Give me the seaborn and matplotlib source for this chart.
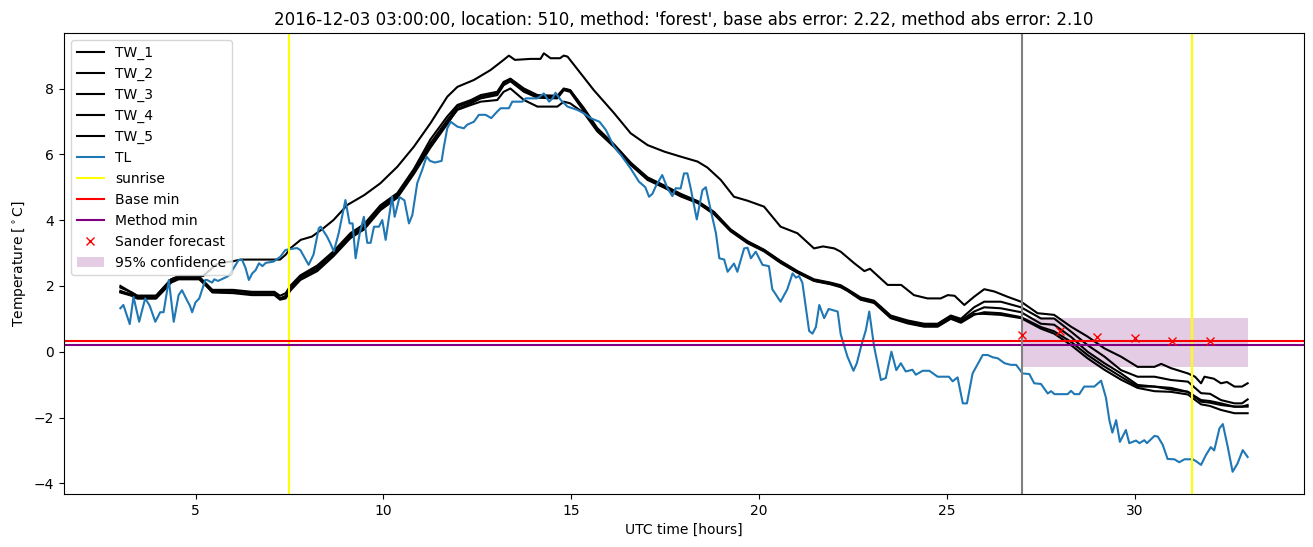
import matplotlib
matplotlib.use("Agg")
import matplotlib.pyplot as plt
import seaborn as sns

# ---------------- data ----------------
tw1_hours = [3.00, 3.15, 3.30, 3.45, 3.95, 4.15, 4.35, 4.55, 5.20, 5.35,
             5.55, 5.70, 6.00, 6.20, 7.10, 7.25, 7.40, 7.52, 7.80, 8.10,
             8.40, 8.67, 9.04, 9.49, 9.92, 10.37, 10.81, 11.25, 11.70, 11.97,
             12.41, 12.85, 13.20, 13.34, 13.50, 13.92, 14.18, 14.27, 14.45, 14.70,
             14.80, 14.90, 15.25, 15.60, 16.14, 16.58, 17.03, 17.48, 17.91, 18.36,
             18.62, 18.98, 19.33, 19.69, 20.13, 20.57, 21.02, 21.46, 21.70, 22.00,
             22.17, 22.53, 22.80, 22.95, 23.42, 23.78, 24.12, 24.48, 24.83, 25.02,
             25.20, 25.46, 25.72, 25.99, 26.26, 26.61, 26.97, 27.41, 27.85, 28.30,
             28.74, 29.19, 29.63, 30.07, 30.52, 30.70, 30.96, 31.41, 31.60, 31.76,
             31.85, 32.10, 32.29, 32.45, 32.65, 32.85, 33.00]
tw1_values = [2.00, 1.90, 1.80, 1.70, 1.70, 1.95, 2.20, 2.30, 2.30, 2.45,
              2.65, 2.70, 2.75, 2.80, 2.80, 2.80, 2.95, 3.14, 3.40, 3.50,
              3.75, 4.00, 4.46, 4.76, 5.12, 5.62, 6.23, 6.94, 7.75, 8.05,
              8.26, 8.56, 8.87, 9.00, 8.87, 8.90, 8.90, 9.07, 8.92, 8.92,
              9.00, 8.97, 8.46, 7.95, 7.25, 6.64, 6.28, 6.08, 5.93, 5.78,
              5.60, 5.22, 4.71, 4.59, 4.41, 3.80, 3.60, 3.14, 3.20, 3.14,
              3.04, 2.69, 2.45, 2.52, 2.03, 2.03, 1.72, 1.62, 1.62, 1.72,
              1.70, 1.42, 1.67, 1.90, 1.83, 1.67, 1.52, 1.17, 1.12, 0.76,
              0.46, 0.10, -0.15, -0.46, -0.46, -0.37, -0.50, -0.66, -0.76, -0.96,
              -0.76, -0.82, -0.96, -0.92, -1.06, -1.06, -0.96]

tw_hours = [3.0, 3.3, 3.45, 3.95, 4.15, 4.35, 4.55, 5.1, 5.3, 5.45,
            6.0, 6.5, 7.1, 7.25, 7.4, 7.52, 7.79, 8.24, 8.67, 9.12,
            9.49, 9.92, 10.37, 10.81, 11.25, 11.7, 11.97, 12.33, 12.59, 13.03,
            13.2, 13.38, 13.74, 14.1, 14.63, 14.8, 14.97, 15.34, 15.69, 16.14,
            16.58, 17.03, 17.48, 17.91, 18.36, 18.8, 19.24, 19.69, 20.13, 20.57,
            21.02, 21.46, 21.9, 22.17, 22.35, 22.7, 23.06, 23.5, 23.95, 24.39,
            24.75, 25.1, 25.37, 25.72, 25.99, 26.43, 26.97, 27.5, 27.85, 28.3,
            28.74, 29.19, 29.63, 30.07, 30.52, 30.96, 31.41, 31.76, 32.0, 32.29,
            32.65, 32.85, 33.0]
tw2_values = [1.95, 1.80, 1.70, 1.70, 1.95, 2.20, 2.28, 2.28, 2.05, 1.88,
              1.88, 1.82, 1.82, 1.70, 1.78, 2.00, 2.32, 2.62, 3.05, 3.60,
              3.88, 4.45, 4.82, 5.55, 6.45, 7.15, 7.50, 7.65, 7.80, 7.90,
              8.20, 8.30, 8.00, 7.80, 7.78, 8.00, 7.95, 7.40, 6.80, 6.30,
              5.75, 5.30, 5.05, 4.80, 4.58, 4.25, 3.72, 3.36, 3.10, 2.76,
              2.45, 2.20, 2.10, 2.02, 1.90, 1.65, 1.55, 1.10, 0.95, 0.85,
              0.85, 1.10, 1.00, 1.35, 1.52, 1.52, 1.35, 1.01, 1.01, 0.61,
              0.20, -0.15, -0.56, -0.76, -0.76, -0.86, -0.91, -1.26, -1.28, -1.47,
              -1.57, -1.57, -1.45]
tw3_values = [1.82, 1.75, 1.65, 1.65, 1.90, 2.15, 2.25, 2.25, 2.02, 1.85,
              1.85, 1.80, 1.80, 1.62, 1.70, 1.95, 2.28, 2.56, 3.00, 3.55,
              3.80, 4.40, 4.76, 5.52, 6.33, 7.04, 7.45, 7.60, 7.75, 7.85,
              8.16, 8.28, 7.95, 7.75, 7.75, 7.98, 7.95, 7.35, 6.75, 6.28,
              5.73, 5.27, 5.02, 4.76, 4.56, 4.21, 3.70, 3.34, 3.09, 2.74,
              2.43, 2.18, 2.08, 2.00, 1.88, 1.62, 1.52, 1.06, 0.91, 0.81,
              0.81, 1.06, 0.95, 1.22, 1.35, 1.32, 1.20, 0.85, 0.82, 0.45,
              0.00, -0.35, -0.66, -1.01, -1.06, -1.10, -1.22, -1.47, -1.50, -1.57,
              -1.67, -1.67, -1.62]
tw4_values = [1.85, 1.72, 1.62, 1.62, 1.88, 2.12, 2.22, 2.22, 2.00, 1.82,
              1.80, 1.75, 1.75, 1.60, 1.65, 1.90, 2.22, 2.50, 2.95, 3.50,
              3.75, 4.35, 4.70, 5.45, 6.25, 6.95, 7.35, 7.50, 7.60, 7.65,
              7.90, 8.00, 7.65, 7.45, 7.45, 7.60, 7.55, 7.25, 6.70, 6.22,
              5.68, 5.22, 4.98, 4.72, 4.52, 4.18, 3.66, 3.30, 3.05, 2.70,
              2.40, 2.15, 2.05, 1.96, 1.85, 1.58, 1.48, 1.02, 0.86, 0.76,
              0.76, 1.00, 0.88, 1.12, 1.20, 1.17, 1.05, 0.75, 0.62, 0.30,
              -0.10, -0.45, -0.76, -1.06, -1.06, -1.15, -1.22, -1.52, -1.55, -1.62,
              -1.67, -1.67, -1.67]
tw5_values = [1.80, 1.70, 1.62, 1.62, 1.85, 2.10, 2.20, 2.20, 1.98, 1.80,
              1.78, 1.72, 1.72, 1.58, 1.62, 1.85, 2.18, 2.45, 2.90, 3.45,
              3.72, 4.30, 4.68, 5.40, 6.20, 6.92, 7.38, 7.55, 7.70, 7.80,
              8.10, 8.22, 7.90, 7.72, 7.70, 7.95, 7.90, 7.30, 6.72, 6.25,
              5.70, 5.25, 5.00, 4.74, 4.54, 4.19, 3.68, 3.32, 3.07, 2.72,
              2.41, 2.16, 2.06, 1.98, 1.86, 1.60, 1.50, 1.04, 0.88, 0.78,
              0.78, 1.02, 0.90, 1.15, 1.15, 1.12, 1.02, 0.70, 0.55, 0.20,
              -0.20, -0.55, -0.85, -1.10, -1.20, -1.22, -1.30, -1.60, -1.65, -1.77,
              -1.87, -1.87, -1.87]

tl_hours = [3.00, 3.08, 3.25, 3.35, 3.50, 3.66, 3.78, 3.93, 4.06, 4.15,
            4.29, 4.42, 4.55, 4.64, 4.77, 4.85, 4.91, 5.00, 5.10, 5.26,
            5.31, 5.44, 5.50, 5.60, 5.84, 5.90, 6.02, 6.15, 6.24, 6.33,
            6.42, 6.51, 6.60, 6.69, 6.78, 6.87, 7.08, 7.26, 7.39, 7.52,
            7.70, 7.79, 8.01, 8.14, 8.28, 8.33, 8.50, 8.59, 8.68, 8.81,
            8.99, 9.10, 9.18, 9.26, 9.37, 9.48, 9.57, 9.66, 9.75, 9.88,
            9.97, 10.06, 10.23, 10.30, 10.43, 10.56, 10.68, 10.77, 10.90, 11.03,
            11.15, 11.24, 11.37, 11.55, 11.61, 11.70, 11.79, 11.97, 12.14, 12.23,
            12.41, 12.54, 12.72, 12.87, 13.03, 13.12, 13.34, 13.43, 13.70, 13.79,
            14.10, 14.27, 14.41, 14.50, 14.58, 14.72, 14.90, 15.16, 15.33, 15.51,
            15.75, 15.92, 16.14, 16.32, 16.58, 16.80, 16.97, 17.07, 17.16, 17.25,
            17.42, 17.56, 17.69, 17.78, 17.91, 18.00, 18.09, 18.18, 18.34, 18.49,
            18.58, 18.71, 18.85, 18.94, 19.07, 19.16, 19.33, 19.42, 19.60, 19.69,
            19.78, 19.91, 20.09, 20.26, 20.35, 20.57, 20.75, 20.89, 20.98, 21.06,
            21.15, 21.33, 21.42, 21.51, 21.60, 21.73, 21.85, 22.09, 22.17, 22.35,
            22.51, 22.60, 22.71, 22.84, 22.93, 23.06, 23.24, 23.37, 23.52, 23.65,
            23.77, 23.90, 24.08, 24.17, 24.35, 24.53, 24.75, 25.05, 25.15, 25.28,
            25.42, 25.53, 25.68, 25.95, 26.08, 26.22, 26.35, 26.53, 26.70, 26.84,
            27.01, 27.19, 27.32, 27.50, 27.68, 27.77, 27.86, 28.21, 28.30, 28.39,
            28.52, 28.65, 28.92, 29.10, 29.23, 29.32, 29.40, 29.50, 29.60, 29.76,
            29.85, 30.03, 30.12, 30.25, 30.32, 30.52, 30.61, 30.74, 30.87, 31.05,
            31.18, 31.32, 31.54, 31.63, 31.76, 31.89, 32.02, 32.11, 32.25, 32.34,
            32.47, 32.60, 32.73, 32.87, 33.00]
tl_values = [1.32, 1.42, 0.84, 1.67, 0.91, 1.62, 1.40, 0.91, 1.20, 1.20,
             2.18, 0.91, 1.72, 1.87, 1.57, 1.40, 1.20, 1.50, 1.62, 2.18,
             2.18, 2.10, 2.20, 2.15, 2.28, 2.33, 2.55, 2.79, 2.79, 2.55,
             2.18, 2.38, 2.48, 2.69, 2.60, 2.70, 2.74, 2.89, 3.09, 3.12,
             3.15, 3.09, 2.64, 2.95, 3.75, 3.80, 3.50, 3.29, 3.05, 3.60,
             4.61, 3.90, 3.90, 2.84, 3.60, 4.10, 3.31, 3.31, 3.80, 3.80,
             4.00, 3.40, 4.71, 4.10, 4.70, 4.60, 3.90, 4.15, 5.12, 5.52,
             5.93, 5.80, 5.75, 5.80, 6.23, 6.79, 6.99, 6.84, 6.79, 6.90,
             6.99, 7.20, 7.20, 7.10, 7.30, 7.40, 7.40, 7.60, 7.60, 7.70,
             7.70, 7.85, 7.60, 7.70, 7.87, 7.65, 7.45, 7.35, 7.25, 7.10,
             6.99, 6.74, 6.23, 5.98, 5.57, 5.17, 5.00, 4.71, 4.80, 5.03,
             5.37, 4.97, 4.73, 4.97, 4.96, 5.42, 5.42, 4.96, 4.02, 4.91,
             5.00, 4.31, 3.60, 2.84, 2.80, 2.43, 2.68, 2.43, 3.14, 3.16,
             2.84, 3.04, 2.64, 2.60, 1.90, 1.52, 1.90, 2.38, 2.25, 2.30,
             2.10, 0.63, 0.55, 0.75, 1.42, 1.02, 1.30, 1.22, 0.53, -0.15,
             -0.58, -0.35, 0.15, 0.66, 1.22, 0.15, -0.86, -0.80, 0.00, -0.56,
             -0.35, -0.60, -0.55, -0.70, -0.58, -0.58, -0.76, -0.76, -0.90, -0.78,
             -1.57, -1.57, -0.66, -0.10, -0.10, -0.17, -0.20, -0.35, -0.40, -0.40,
             -0.66, -0.68, -0.96, -0.98, -1.27, -1.20, -1.29, -1.29, -1.19, -1.29,
             -1.29, -1.06, -1.06, -0.88, -1.40, -2.08, -2.46, -2.08, -2.74, -2.38,
             -2.78, -2.70, -2.78, -2.69, -2.78, -2.56, -2.58, -2.83, -3.26, -3.27,
             -3.36, -3.27, -3.27, -3.33, -3.44, -3.14, -2.90, -3.00, -2.33, -2.20,
             -2.89, -3.65, -3.40, -2.99, -3.20]

sunrise_hours = [7.50, 31.53]
forecast_start = 27.0
base_min = 0.33
method_min = 0.21
sander_hours = [27, 28, 29, 30, 31, 32]
sander_values = [0.51, 0.63, 0.46, 0.43, 0.33, 0.33]
conf_hours = [27.0, 33.0]
conf_low = -0.46
conf_high = 1.01

title = ("2016-12-03 03:00:00, location: 510, method: 'forest', "
         "base abs error: 2.22, method abs error: 2.10")

# ---------------- plot ----------------
fig = plt.figure(figsize=(13.13, 5.47), dpi=100)
ax = fig.add_axes([64 / 1313, 53 / 547, 1240 / 1313, 461 / 547])

tw_series = [("TW_1", tw1_hours, tw1_values),
             ("TW_2", tw_hours, tw2_values),
             ("TW_3", tw_hours, tw3_values),
             ("TW_4", tw_hours, tw4_values),
             ("TW_5", tw_hours, tw5_values)]
for name, hrs, vals in tw_series:
    sns.lineplot(x=hrs, y=vals, ax=ax, color="black", label=name, linewidth=1.5)

sns.lineplot(x=tl_hours, y=tl_values, ax=ax, color="#1f77b4", label="TL", linewidth=1.5)

for i, sh in enumerate(sunrise_hours):
    ax.axvline(sh, color="yellow", label="sunrise" if i == 0 else None)
ax.axhline(base_min, color="red", label="Base min")
ax.axhline(method_min, color="purple", label="Method min")
ax.axvline(forecast_start, color="gray")
ax.plot(sander_hours, sander_values, "x", color="red", label="Sander forecast")
ax.fill_between(conf_hours, [conf_low] * 2, [conf_high] * 2, color="purple",
                alpha=0.2, linewidth=0, label="95% confidence")

ax.set_xlim(1.5, 34.5)
ax.set_ylim(-4.325, 9.687)
ax.set_xticks([5, 10, 15, 20, 25, 30])
ax.set_yticks([-4, -2, 0, 2, 4, 6, 8])
ax.set_xlabel("UTC time [hours]")
ax.set_ylabel(r"Temperature [$^\circ$C]")
ax.set_title(title)
ax.legend(loc="upper left")

fig.savefig("out.png", dpi=100)
